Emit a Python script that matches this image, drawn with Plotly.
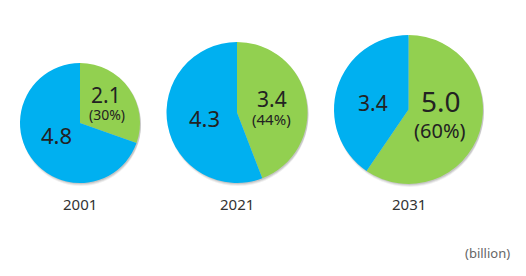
import plotly.graph_objects as go

years = ["2001", "2021", "2031"]
green_vals = [2.1, 3.4, 5.0]
blue_vals = [4.8, 4.3, 3.4]
green_pct = ["30%", "44%", "60%"]
unit_label = "(billion)"

W, H = 526, 276
# pie geometry in pixels: center x, center y (from top), radius
geo = [(80, 123, 60), (237, 112.5, 70.5), (408.5, 109.5, 74.5)]
# label font sizes
big_fs = [21, 21, 28]
pct_fs = [14, 15, 20]
blue_fs = [22, 22, 21]

GREEN = "#92D050"
BLUE = "#00B0F0"
FONT = "Noto Sans, sans-serif"

def px(x):
    return x / W

def py(y):
    return 1 - y / H

def ann(text, x, y, size, color="#222"):
    return dict(text=text, x=px(x), y=py(y), xref="paper", yref="paper",
                xanchor="center", yanchor="middle", showarrow=False,
                font=dict(size=size, color=color, family=FONT))

fig = go.Figure()
shapes = []
annotations = []
for i, (cx, cy, r) in enumerate(geo):
    fig.add_trace(go.Pie(
        values=[green_vals[i], blue_vals[i]],
        labels=["green", "blue"],
        marker=dict(colors=[GREEN, BLUE], line=dict(width=0)),
        sort=False,
        direction="clockwise",
        rotation=0,
        textinfo="none",
        hoverinfo="skip",
        showlegend=False,
        domain=dict(x=[px(cx - r), px(cx + r)], y=[py(cy + r), py(cy - r)]),
    ))
    # soft drop shadow
    for k, a in [(3, 0.06), (2, 0.08), (1, 0.10)]:
        shapes.append(dict(type="circle", xref="paper", yref="paper", layer="below",
                           x0=px(cx - r + 1), x1=px(cx + r + 1),
                           y0=py(cy + r + k), y1=py(cy - r + k),
                           fillcolor=f"rgba(0,0,0,{a})", line=dict(width=0)))
    annotations.append(ann(years[i], cx, 204, 15, "#333"))

# value labels (positions in pixels)
gpos = [(106, 95, 107, 114), (272, 99, 271, 119), (441, 101, 440, 130)]
bpos = [(56, 135), (204, 118), (373, 103)]
for i in range(3):
    gx, gy, qx, qy = gpos[i]
    annotations.append(ann(f"{green_vals[i]:.1f}", gx, gy, big_fs[i]))
    annotations.append(ann(f"({green_pct[i]})", qx, qy, pct_fs[i]))
    bx, by = bpos[i]
    annotations.append(ann(f"{blue_vals[i]:.1f}", bx, by, blue_fs[i]))

annotations.append(ann(unit_label, 487, 253, 13, "#666"))

fig.update_layout(width=W, height=H, margin=dict(l=0, r=0, t=0, b=0),
                  paper_bgcolor="white", plot_bgcolor="white",
                  shapes=shapes, annotations=annotations)
fig.write_html("out.html")
